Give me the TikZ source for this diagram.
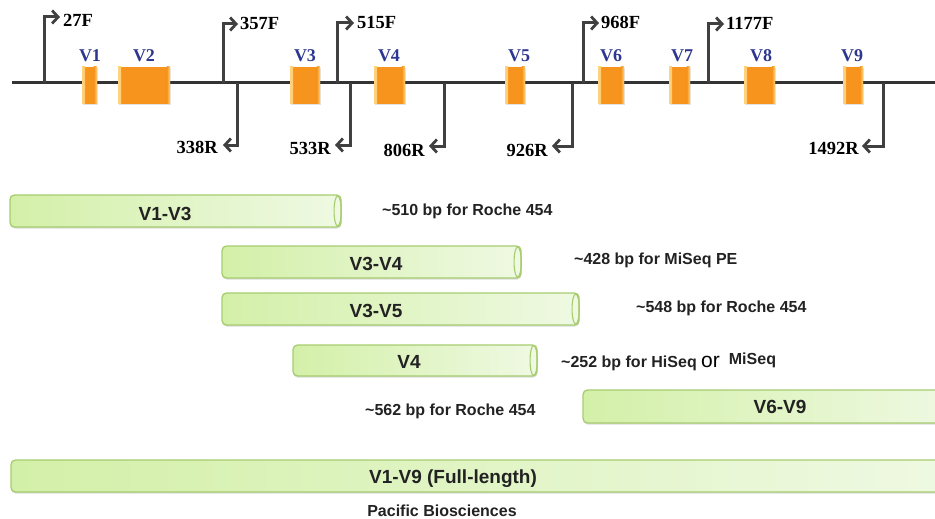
\documentclass[tikz,border=0pt]{standalone}
\usepackage{fontspec}
\setmainfont{Liberation Serif}
\setsansfont{Liberation Sans}
\usetikzlibrary{arrows.meta,shadows}

\definecolor{dnagray}{HTML}{333333}
\definecolor{primergray}{HTML}{404040}
\definecolor{boxorange}{HTML}{F7941D}
\definecolor{edgeyellow}{HTML}{FFD37E}
\definecolor{vnavy}{HTML}{2E378F}
\definecolor{barline}{HTML}{A6CC6E}
\definecolor{barleft}{HTML}{D3F0A8}
\definecolor{barright}{HTML}{EFF9E3}
\definecolor{notegray}{HTML}{222222}

\begin{document}
\begin{tikzpicture}[x=1pt,y=-1pt,
  dna/.style={draw=dnagray, line width=3pt},
  primer/.style={draw=primergray, line width=3pt,
    -{Straight Barb[length=6pt,width=13pt,line width=2.8pt]}},
  region/.style={rectangle, inner sep=0pt, fill=boxorange,
    drop shadow={opacity=0.22, shadow xshift=0.6pt, shadow yshift=-1.4pt},
    path picture={
      \fill[left color=edgeyellow, right color=boxorange]
        (path picture bounding box.south west)
        rectangle ([xshift=3.2pt]path picture bounding box.north west);
      \fill[left color=boxorange, right color=edgeyellow]
        ([xshift=-3.2pt]path picture bounding box.south east)
        rectangle (path picture bounding box.north east);}},
  vlab/.style={anchor=base, inner sep=0pt, text=vnavy,
    font=\fontsize{18}{20}\selectfont\bfseries},
  plabF/.style={anchor=base west, inner sep=0pt, text=black,
    font=\fontsize{18.5}{20}\selectfont\bfseries},
  plabR/.style={anchor=base east, inner sep=0pt, text=black,
    font=\fontsize{18.5}{20}\selectfont\bfseries},
  ampbar/.style={rectangle, inner sep=0pt, draw=barline, line width=1.3pt,
    rounded corners=4.5pt, left color=barleft, right color=barright,
    drop shadow={opacity=0.28, shadow xshift=0.4pt, shadow yshift=-1.6pt}},
  barend/.style={draw=barline, line width=1.1pt},
  barlab/.style={anchor=base, inner sep=0pt, text=notegray,
    font=\fontsize{19}{21}\sffamily\bfseries},
  note/.style={anchor=base west, inner sep=0pt, text=notegray,
    font=\fontsize{16}{18}\sffamily\bfseries}]

\useasboundingbox (0,0) rectangle (935,519);

% ---------- 16S rRNA gene backbone ----------
\coordinate (m0) at (12,83);
\coordinate (m1) at (935,83);
\draw[dna] (m0) -- (m1);

% ---------- forward primers ----------
\coordinate (f27)   at (44,83);   \coordinate (h27)   at (60,17);
\coordinate (f357)  at (223,83);  \coordinate (h357)  at (238,24);
\coordinate (f515)  at (337,83);  \coordinate (h515)  at (354,23);
\coordinate (f968)  at (583,83);  \coordinate (h968)  at (599,23);
\coordinate (f1177) at (708,83);  \coordinate (h1177) at (724,24);
\foreach \p in {27,357,515,968,1177}
  \draw[primer] (f\p) |- (h\p);

\node[plabF] (l27)   at (63,27)  {27F};
\node[plabF] (l357)  at (240,30) {357F};
\node[plabF] (l515)  at (357,29) {515F};
\node[plabF] (l968)  at (601,29) {968F};
\node[plabF] (l1177) at (726,30) {1177F};

% ---------- reverse primers ----------
\coordinate (r338)  at (237,83);  \coordinate (k338)  at (223,145);
\coordinate (r533)  at (350,83);  \coordinate (k533)  at (335,145);
\coordinate (r806)  at (444,83);  \coordinate (k806)  at (429,146);
\coordinate (r926)  at (572,83);  \coordinate (k926)  at (552,146);
\coordinate (r1492) at (883,83);  \coordinate (k1492) at (862,146);
\foreach \p in {338,533,806,926,1492}
  \draw[primer] (r\p) |- (k\p);

\node[plabR] (l338)  at (218,153) {338R};
\node[plabR] (l533)  at (331,154) {533R};
\node[plabR] (l806)  at (425,156) {806R};
\node[plabR] (l926)  at (548,156) {926R};
\node[plabR] (l1492) at (859,154) {1492R};

% ---------- hypervariable regions ----------
\node[region, minimum width=15pt, minimum height=37pt] (v1) at (89.5,85.5) {};
\node[region, minimum width=52pt, minimum height=37pt] (v2) at (144,85.5) {};
\node[region, minimum width=30pt, minimum height=37pt] (v3) at (305,85.5) {};
\node[region, minimum width=31pt, minimum height=37pt] (v4) at (389.5,85.5) {};
\node[region, minimum width=20pt, minimum height=37pt] (v5) at (515,85.5) {};
\node[region, minimum width=26pt, minimum height=37pt] (v6) at (611,85.5) {};
\node[region, minimum width=21pt, minimum height=37pt] (v7) at (679.5,85.5) {};
\node[region, minimum width=31pt, minimum height=37pt] (v8) at (759.5,85.5) {};
\node[region, minimum width=20pt, minimum height=37pt] (v9) at (853,85.5) {};

\node[vlab] (n1) at (90,62)  {V1};
\node[vlab] (n2) at (144,62) {V2};
\node[vlab] (n3) at (305,62) {V3};
\node[vlab] (n4) at (389,62) {V4};
\node[vlab] (n5) at (519,62) {V5};
\node[vlab] (n6) at (611,62) {V6};
\node[vlab] (n7) at (682,62) {V7};
\node[vlab] (n8) at (761,62) {V8};
\node[vlab] (n9) at (852,62) {V9};

% ---------- amplicons ----------
\node[ampbar, minimum width=331pt, minimum height=32pt] (b13) at (175.5,211) {};
\node[ampbar, minimum width=299pt, minimum height=32pt] (b34) at (371.5,262) {};
\node[ampbar, minimum width=357pt, minimum height=32pt] (b35) at (400.5,309) {};
\node[ampbar, minimum width=244pt, minimum height=31pt] (b4)  at (415,360.5) {};
\node[ampbar, minimum width=377pt, minimum height=33pt] (b69) at (771.5,406.5) {};
\node[ampbar, minimum width=949pt, minimum height=32pt] (b19) at (485.5,476) {};

\foreach \b in {b13,b34,b35,b4}
  \draw[barend] ([xshift=-4pt]\b.east) ellipse [x radius=3.6pt, y radius=15pt];

\node[barlab] (t13) at (165,220) {V1-V3};
\node[barlab] (t34) at (376,270) {V3-V4};
\node[barlab] (t35) at (376,317) {V3-V5};
\node[barlab] (t4)  at (409,368) {V4};
\node[barlab] (t69) at (780,413) {V6-V9};
\node[barlab] (t19) at (453,483) {V1-V9 (Full-length)};

% ---------- sequencing notes ----------
\node[note] (a13) at (382,215) {\textasciitilde510 bp for Roche 454};
\node[note] (a34) at (574,264) {\textasciitilde428 bp for MiSeq PE};
\node[note] (a35) at (636,312) {\textasciitilde548 bp for Roche 454};
\node[note] (a4)  at (561,367) {\textasciitilde252 bp for HiSeq
  {\fontsize{21}{21}\selectfont\mdseries\color{black}or}\hspace{9pt}\raisebox{2.5pt}{MiSeq}};
\node[note] (a69) at (365,415) {\textasciitilde562 bp for Roche 454};
\node[note, anchor=base] (pb) at (442,516) {Pacific Biosciences};

\end{tikzpicture}
\end{document}
